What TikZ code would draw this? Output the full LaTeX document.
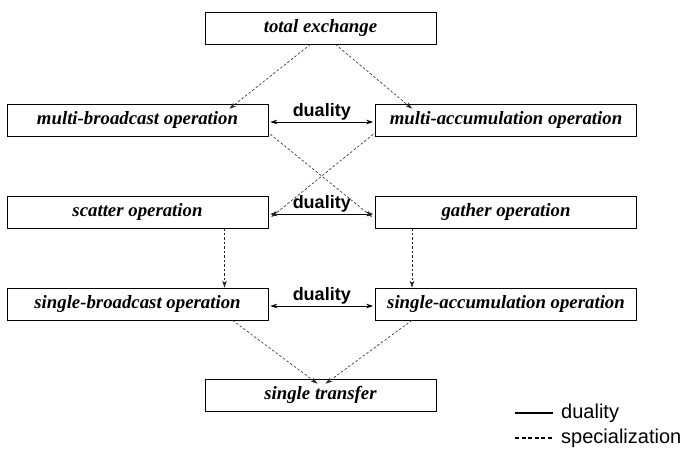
\documentclass[tikz,border=0pt]{standalone}
\usepackage{fontspec}
\setmainfont{Liberation Serif}
\newfontfamily\lserif{Liberation Serif}
\newfontfamily\lsans{Liberation Sans}
\usetikzlibrary{arrows.meta}
\begin{document}
\begin{tikzpicture}[x=1pt,y=-1pt,
  opbox/.style={draw, line width=0.6pt, minimum width=#1, minimum height=32pt, inner sep=0pt,
    font=\lserif\fontsize{18.8}{20}\selectfont\bfseries\itshape},
  opbox/.default=261pt,
  dual/.style={line width=0.8pt, {Stealth[length=7pt,width=4.5pt]}-{Stealth[length=7pt,width=4.5pt]}},
  spec/.style={line width=0.6pt, draw=black!85, dash pattern=on 2.5pt off 2pt, -{Stealth[length=7pt,width=4.5pt]}},
  duallab/.style={font=\lsans\bfseries\fontsize{18}{20}\selectfont, inner sep=1pt, anchor=south},
  leglab/.style={font=\lsans\fontsize{20}{22}\selectfont, anchor=west, inner sep=0pt}]
\useasboundingbox (0,0) rectangle (690,452);
\node[opbox=231pt] (te) at (320.5,28) {total exchange};
\node[opbox] (mb) at (137.5,120) {multi-broadcast operation};
\node[opbox] (ma) at (506,120) {multi-accumulation operation};
\node[opbox] (sc) at (137.5,212) {scatter operation};
\node[opbox] (ga) at (506,212) {gather operation};
\node[opbox] (sb) at (137.5,304) {single-broadcast operation};
\node[opbox] (sa) at (506,304) {single-accumulation operation};
\node[opbox=231pt] (st) at (320.5,395) {single transfer};
% duality arrows
\draw[dual] ([xshift=2pt,yshift=-2pt]mb.east) -- ([xshift=-2pt,yshift=-2pt]ma.west) node[duallab, midway] {duality};
\draw[dual] ([xshift=2pt,yshift=-2pt]sc.east) -- ([xshift=-2pt,yshift=-2pt]ga.west) node[duallab, midway] {duality};
\draw[dual] ([xshift=2pt,yshift=-2pt]sb.east) -- ([xshift=-2pt,yshift=-2pt]sa.west) node[duallab, midway] {duality};
% specialization arrows
\coordinate (te1) at ([xshift=-10pt]te.south);
\coordinate (te2) at ([xshift=15pt]te.south);
\draw[spec] (te1) -- ([xshift=92pt,yshift=-5pt]mb.north);
\draw[spec] (te2) -- ([xshift=-94pt,yshift=-5pt]ma.north);
\draw[spec] ([xshift=2pt,yshift=2pt]mb.south east) -- ([xshift=-3pt,yshift=-5pt]ga.west);
\draw[spec] ([xshift=-2pt,yshift=2pt]ma.south west) -- ([xshift=3pt,yshift=-5pt]sc.east);
\draw[spec] ([xshift=87pt]sc.south) -- ([xshift=87pt]sb.north);
\draw[spec] ([xshift=-94pt]ga.south) -- ([xshift=-94pt]sa.north);
\draw[spec] ([xshift=95pt]sb.south) -- ([xshift=-3pt,yshift=-5pt]st.north);
\draw[spec] ([xshift=-94pt]sa.south) -- ([xshift=5pt,yshift=-5pt]st.north);
% legend
\coordinate (l1a) at (515,413); \coordinate (l1b) at (553,413);
\coordinate (l2a) at (515,438); \coordinate (l2b) at (553,438);
\draw[line width=1.4pt] (l1a) -- (l1b);
\draw[line width=1.4pt, dash pattern=on 4pt off 2.5pt] (l2a) -- (l2b);
\node[leglab] (ld) at (561,413) {duality};
\node[leglab] (ls) at (561,438) {specialization};
\end{tikzpicture}
\end{document}
